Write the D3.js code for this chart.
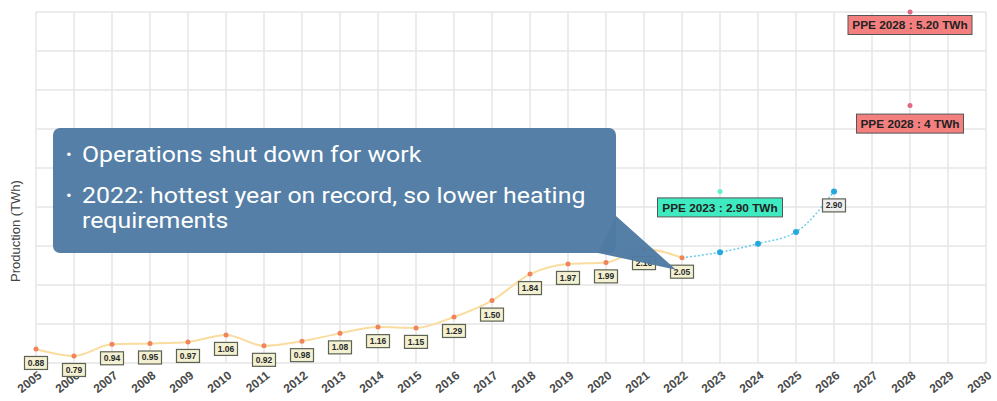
<!DOCTYPE html>
<html>
<head>
<meta charset="utf-8">
<script src="https://cdn.jsdelivr.net/npm/d3@7"></script>
<style>
  body { margin: 0; background: #fff; }
  svg { display: block; }
</style>
</head>
<body>
<div id="chart"></div>
<script>
// chart size
var width = 997,
  height = 401;

// tick labels on the x axis
var yearTicks = [2005, 2006, 2007, 2008, 2009, 2010, 2011, 2012, 2013, 2014, 2015, 2016, 2017,
  2018, 2019, 2020, 2021, 2022, 2023, 2024, 2025, 2026, 2027, 2028, 2029, 2030];

// measured production (TWh)
var histYears = [2005, 2006, 2007, 2008, 2009, 2010, 2011, 2012, 2013, 2014, 2015, 2016, 2017,
  2018, 2019, 2020, 2021, 2022];
var histValues = [0.88, 0.79, 0.94, 0.95, 0.97, 1.06, 0.92, 0.98, 1.08, 1.16, 1.15, 1.29, 1.50,
  1.84, 1.97, 1.99, 2.16, 2.05];

// projection
var projYears = [2022, 2023, 2024, 2025, 2026];
var projValues = [2.05, 2.12, 2.23, 2.38, 2.90];

// PPE targets
var targetYears = [2023, 2028, 2028];
var targetValues = [2.90, 5.20, 4.00];
var targetLabels = ["PPE 2023 : 2.90 TWh", "PPE 2028 : 5.20 TWh", "PPE 2028 : 4 TWh"];

// y gridlines
var yTicks = [0.7, 1.2, 1.7, 2.2, 2.7, 3.2, 3.7, 4.2, 4.7, 5.2];

var svg = d3.select("#chart")
  .append("svg")
  .attr("width", width)
  .attr("height", height);

var x = d3.scaleLinear()
  .domain([2005, 2030])
  .range([36, 986]);

var y = d3.scaleLinear()
  .domain([0.7, 5.2])
  .range([363, 12]);

// grid
var grid = svg.append("g").attr("class", "grid");
grid.selectAll("line.v")
  .data(yearTicks)
  .enter().append("line")
  .attr("class", "v")
  .attr("x1", d => x(d)).attr("x2", d => x(d))
  .attr("y1", y(5.2)).attr("y2", y(0.7))
  .attr("stroke", "#e6e6e6")
  .attr("stroke-width", 1.5);
grid.selectAll("line.h")
  .data(yTicks)
  .enter().append("line")
  .attr("class", "h")
  .attr("x1", x(2005)).attr("x2", x(2030))
  .attr("y1", d => y(d)).attr("y2", d => y(d))
  .attr("stroke", "#e6e6e6")
  .attr("stroke-width", 1.5);

// x axis labels
var xAxis = d3.axisBottom(x)
  .tickValues(yearTicks)
  .tickFormat(d3.format("d"))
  .tickSize(0);
var gx = svg.append("g")
  .attr("class", "x axis")
  .attr("transform", "translate(0," + y(0.7) + ")")
  .call(xAxis);
gx.select(".domain").remove();
gx.selectAll("text")
  .attr("font-family", "Liberation Sans, Arial, sans-serif")
  .attr("font-size", 12)
  .attr("font-weight", "bold")
  .attr("fill", "#4a4a4a")
  .attr("text-anchor", "end")
  .attr("dy", null)
  .attr("y", 0)
  .attr("transform", "translate(6,14) rotate(-38)");

// y axis title
svg.append("text")
  .attr("transform", "translate(20,231) rotate(-90)")
  .attr("text-anchor", "middle")
  .attr("font-family", "Liberation Sans, Arial, sans-serif")
  .attr("font-size", 13)
  .attr("fill", "#444")
  .text("Production (TWh)");

// lines
var line = d3.line()
  .x(d => x(d[0]))
  .y(d => y(d[1]))
  .curve(d3.curveMonotoneX);

var hist = histYears.map((d, i) => [d, histValues[i]]);
var proj = projYears.map((d, i) => [d, projValues[i]]);

svg.append("path")
  .datum(hist)
  .attr("d", line)
  .attr("fill", "none")
  .attr("stroke", "#fadc9f")
  .attr("stroke-width", 2);

svg.append("path")
  .datum(proj)
  .attr("d", line)
  .attr("fill", "none")
  .attr("stroke", "#6ccbea")
  .attr("stroke-width", 1.5)
  .attr("stroke-dasharray", "2,2");

svg.selectAll("circle.hist")
  .data(hist)
  .enter().append("circle")
  .attr("class", "hist")
  .attr("cx", d => x(d[0]))
  .attr("cy", d => y(d[1]))
  .attr("r", 2.5)
  .attr("fill", "#f0845a");

svg.selectAll("circle.proj")
  .data(proj.slice(1))
  .enter().append("circle")
  .attr("class", "proj")
  .attr("cx", d => x(d[0]))
  .attr("cy", d => y(d[1]))
  .attr("r", 3)
  .attr("fill", "#25a9dc");

// value labels
function valueLabel(data, fill) {
  var lab = svg.append("g").selectAll("g")
    .data(data)
    .enter().append("g")
    .attr("transform", d => "translate(" + x(d[0]) + "," + (y(d[1]) + 14) + ")");
  lab.append("rect")
    .attr("x", -11.5).attr("y", -6.5)
    .attr("width", 23).attr("height", 13)
    .attr("fill", fill)
    .attr("stroke", "#5e6253")
    .attr("stroke-width", 1.2);
  lab.append("text")
    .attr("text-anchor", "middle")
    .attr("dy", "0.35em")
    .attr("font-family", "Liberation Sans, Arial, sans-serif")
    .attr("font-size", 8.5)
    .attr("font-weight", "bold")
    .attr("fill", "#2a2a2a")
    .text(d => d3.format(".2f")(d[1]));
}
valueLabel(hist, "#f3f1d2");
valueLabel(proj.slice(-1), "#eeeeee");

// PPE targets
var targetFill = ["#3eeac0", "#f47f7f", "#f47f7f"];
var targetDot = ["#5ff0d0", "#e06a86", "#e06a86"];
var targetOffset = [16, 13, 18];
var targetW = [125, 124, 107];

var tg = svg.selectAll("g.target")
  .data(targetYears)
  .enter().append("g")
  .attr("class", "target");
tg.append("circle")
  .attr("cx", (d) => x(d))
  .attr("cy", (d, i) => y(targetValues[i]))
  .attr("r", 2.5)
  .attr("fill", (d, i) => targetDot[i]);
tg.append("rect")
  .attr("x", (d, i) => x(d) - targetW[i] / 2)
  .attr("y", (d, i) => y(targetValues[i]) + targetOffset[i] - 9.5)
  .attr("width", (d, i) => targetW[i])
  .attr("height", 19)
  .attr("fill", (d, i) => targetFill[i])
  .attr("stroke", "#555")
  .attr("stroke-width", 1);
tg.append("text")
  .attr("x", (d) => x(d))
  .attr("y", (d, i) => y(targetValues[i]) + targetOffset[i])
  .attr("dy", "0.35em")
  .attr("text-anchor", "middle")
  .attr("font-family", "Liberation Sans, Arial, sans-serif")
  .attr("font-size", 11.8)
  .attr("font-weight", "bold")
  .attr("fill", "#222")
  .text((d, i) => targetLabels[i]);

// callout
var tipX = x(2022) - 6,
  tipY = y(2.05) + 12;
var callout = svg.append("g");
callout.append("path")
  .attr("d", "M598,253 L616,216 L" + tipX + "," + tipY + " Z")
  .attr("fill", "#4f7ba3")
  .attr("opacity", 0.97);
callout.append("rect")
  .attr("x", 53).attr("y", 128)
  .attr("width", 563).attr("height", 125)
  .attr("rx", 7)
  .attr("fill", "#4f7ba3")
  .attr("opacity", 0.97);

var bullets = [
  {t: "Operations shut down for work", y: 162, b: true},
  {t: "2022: hottest year on record, so lower heating", y: 203, b: true},
  {t: "requirements", y: 228, b: false}
];
bullets.forEach(function(l) {
  if (l.b) {
    callout.append("text")
      .attr("x", 66).attr("y", l.y - 2)
      .attr("font-family", "Roboto, sans-serif")
      .attr("font-size", 17)
      .attr("fill", "#fff")
      .text("•");
  }
  callout.append("text")
    .attr("transform", "translate(82," + l.y + ") scale(1.13,1)")
    .attr("font-family", "Roboto, sans-serif")
    .attr("font-size", 22)
    .attr("fill", "#fff")
    .text(l.t);
});
</script>
</body>
</html>
